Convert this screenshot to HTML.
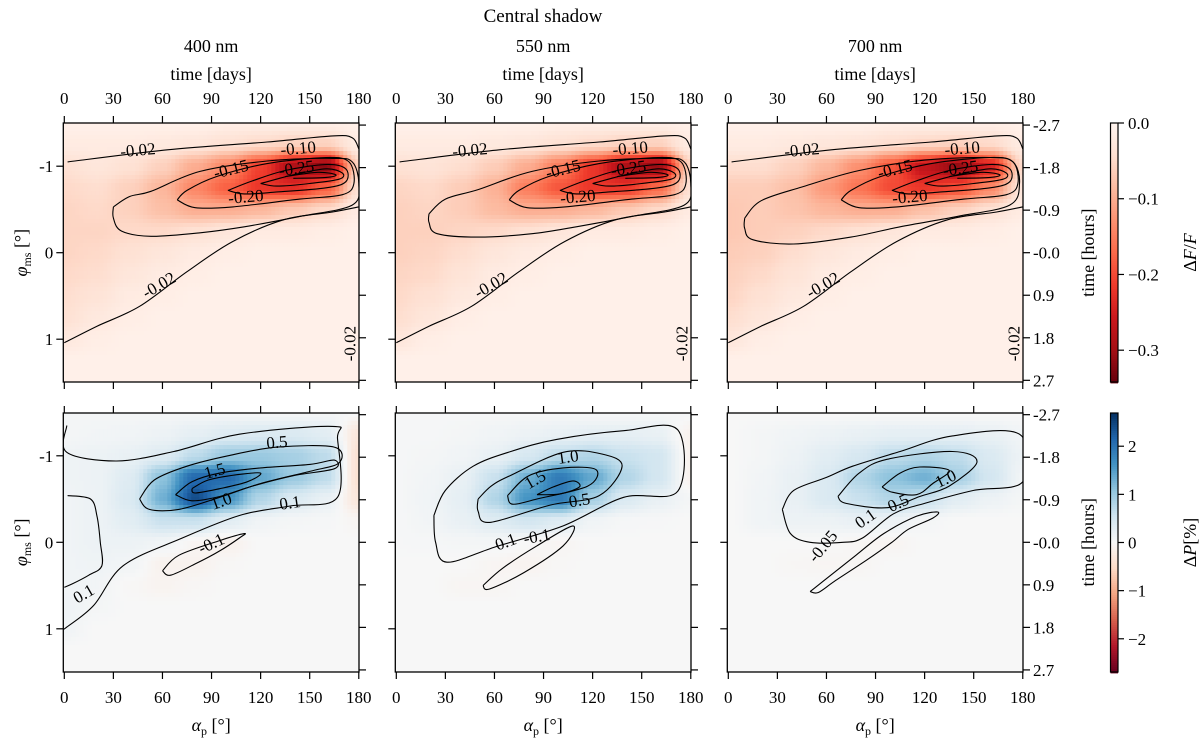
<!DOCTYPE html>
<html><head><meta charset="utf-8"><style>
html,body{margin:0;padding:0;background:#fff;}
svg{display:block;font-family:"Liberation Serif",serif;}
</style></head><body>
<svg id="fig" width="1200" height="739" viewBox="0 0 1200 739" xmlns="http://www.w3.org/2000/svg">
<text x="543" y="22" font-size="19" text-anchor="middle">Central shadow</text>
</svg>
<script>
// ---------- data ----------
const alphaGrid=[0,20,40,60,80,100,120,140,160,180];
const phiGrid=[-1.5,-1.25,-1,-0.75,-0.5,-0.25,0,0.25,0.5,0.75,1,1.25,1.5];
const xTickLabels=[0,30,60,90,120,150,180];
const yTickLabels=[-1,0,1];
const timeTickLabels=["-2.7","-1.8","-0.9","-0.0","0.9","1.8","2.7"];
const timeTicks=[-2.7,-1.8,-0.9,0,0.9,1.8,2.7];
const cbTopTicks=[0,-0.1,-0.2,-0.3];
const cbTopLabels=["0.0","\u22120.1","\u22120.2","\u22120.3"];
const cbBotTicks=[2,1,0,-1,-2];
const cbBotLabels=["2","1","0","\u22121","\u22122"];
const wavelengths=["400 nm","550 nm","700 nm"];

const T400=[
[-.01,-.01,-.01,-.01,-.01,-.015,-.015,-.015,-.015,-.01],
[-.02,-.02,-.02,-.025,-.03,-.04,-.05,-.06,-.06,-.02],
[-.04,-.03,-.04,-.06,-.10,-.14,-.21,-.29,-.32,-.06],
[-.05,-.045,-.06,-.09,-.14,-.18,-.22,-.23,-.18,-.04],
[-.055,-.05,-.06,-.08,-.10,-.10,-.09,-.07,-.05,-.02],
[-.055,-.055,-.05,-.05,-.04,-.03,-.02,-.02,-.015,-.01],
[-.055,-.05,-.04,-.03,-.02,-.015,-.01,-.01,-.01,-.01],
[-.05,-.045,-.03,-.02,-.015,-.01,-.01,-.01,-.01,-.01],
[-.045,-.035,-.02,-.015,-.01,-.01,-.01,-.01,-.01,-.01],
[-.04,-.025,-.015,-.01,-.01,-.01,-.01,-.01,-.01,-.01],
[-.025,-.015,-.01,-.01,-.01,-.01,-.01,-.01,-.01,-.01],
[-.01,-.01,-.01,-.01,-.01,-.01,-.01,-.01,-.01,-.01],
[-.01,-.01,-.01,-.01,-.01,-.01,-.01,-.01,-.01,-.01]];
const T550=[
[-.01,-.01,-.01,-.01,-.01,-.015,-.015,-.015,-.015,-.01],
[-.02,-.02,-.02,-.025,-.03,-.04,-.05,-.06,-.06,-.02],
[-.04,-.035,-.045,-.065,-.10,-.15,-.22,-.29,-.31,-.06],
[-.055,-.05,-.065,-.095,-.15,-.19,-.22,-.22,-.17,-.04],
[-.06,-.055,-.065,-.085,-.10,-.10,-.09,-.07,-.05,-.02],
[-.06,-.06,-.055,-.05,-.04,-.03,-.02,-.02,-.015,-.01],
[-.06,-.055,-.045,-.03,-.02,-.015,-.01,-.01,-.01,-.01],
[-.055,-.05,-.035,-.02,-.015,-.01,-.01,-.01,-.01,-.01],
[-.05,-.04,-.025,-.015,-.01,-.01,-.01,-.01,-.01,-.01],
[-.045,-.03,-.015,-.01,-.01,-.01,-.01,-.01,-.01,-.01],
[-.03,-.015,-.01,-.01,-.01,-.01,-.01,-.01,-.01,-.01],
[-.01,-.01,-.01,-.01,-.01,-.01,-.01,-.01,-.01,-.01],
[-.01,-.01,-.01,-.01,-.01,-.01,-.01,-.01,-.01,-.01]];
const T700=[
[-.01,-.01,-.01,-.01,-.01,-.015,-.015,-.015,-.015,-.01],
[-.02,-.02,-.025,-.03,-.035,-.045,-.055,-.06,-.05,-.02],
[-.045,-.045,-.06,-.09,-.13,-.19,-.27,-.31,-.25,-.05],
[-.065,-.065,-.08,-.12,-.16,-.20,-.22,-.20,-.14,-.03],
[-.07,-.065,-.075,-.09,-.10,-.10,-.08,-.06,-.04,-.02],
[-.07,-.065,-.06,-.05,-.04,-.03,-.02,-.02,-.015,-.01],
[-.065,-.06,-.045,-.03,-.02,-.015,-.01,-.01,-.01,-.01],
[-.06,-.05,-.035,-.02,-.015,-.01,-.01,-.01,-.01,-.01],
[-.055,-.04,-.025,-.015,-.01,-.01,-.01,-.01,-.01,-.01],
[-.045,-.03,-.015,-.01,-.01,-.01,-.01,-.01,-.01,-.01],
[-.03,-.015,-.01,-.01,-.01,-.01,-.01,-.01,-.01,-.01],
[-.01,-.01,-.01,-.01,-.01,-.01,-.01,-.01,-.01,-.01],
[-.01,-.01,-.01,-.01,-.01,-.01,-.01,-.01,-.01,-.01]];
const B400=[
[.05,.05,.05,.05,.05,.05,.05,.05,.05,0],
[.05,.08,.1,.15,.25,.35,.4,.4,.3,-.3],
[.12,.15,.2,.35,.7,1.0,1.0,.9,.7,-.4],
[.12,.15,.35,1.1,2.1,2.1,1.4,1.0,.7,-.4],
[.1,.15,.4,1.3,2.4,1.6,.8,.4,.2,-.3],
[.1,.15,.3,.6,.6,.3,.1,.05,.03,-.05],
[.1,.15,.15,.1,-.05,-.12,0,0,0,0],
[.1,.12,.08,-.1,-.1,-.02,0,0,0,0],
[.1,.08,-.02,-.08,-.03,0,0,0,0,0],
[.12,.05,0,0,0,0,0,0,0,0],
[.1,0,0,0,0,0,0,0,0,0],
[0,0,0,0,0,0,0,0,0,0],
[0,0,0,0,0,0,0,0,0,0]];
const B550=[
[.03,.03,.03,.03,.03,.03,.03,.03,.03,.03],
[.03,.03,.05,.1,.15,.2,.25,.25,.2,-.1],
[.03,.05,.1,.2,.45,.7,.8,.6,.5,-.1],
[.03,.08,.2,.6,1.3,1.9,1.4,.8,.5,-.1],
[.03,.1,.25,.8,1.6,1.9,.9,.4,.2,.05],
[.02,.08,.2,.35,.5,.35,.1,.03,.02,0],
[.02,.03,.05,.05,0,-.05,0,0,0,0],
[0,0,0,-.05,-.08,-.02,0,0,0,0],
[0,0,-.05,-.05,0,0,0,0,0,0],
[0,0,0,0,0,0,0,0,0,0],
[0,0,0,0,0,0,0,0,0,0],
[0,0,0,0,0,0,0,0,0,0],
[0,0,0,0,0,0,0,0,0,0]];
const B700=[
[0,0,0,0,0,0,0,0,0,0],
[0,.05,.1,.15,.2,.25,.25,.25,.2,.1],
[0,.05,.15,.3,.45,.7,.8,.7,.4,.15],
[0,.08,.2,.4,.8,1.1,1.3,.9,.5,.1],
[0,.1,.2,.4,.6,.8,.6,.3,.15,.05],
[0,.1,.15,.15,.2,.15,.05,0,0,0],
[0,0,0,0,-.04,-.06,0,0,0,0],
[0,0,-.03,-.05,-.04,0,0,0,0,0],
[0,0,0,0,0,0,0,0,0,0],
[0,0,0,0,0,0,0,0,0,0],
[0,0,0,0,0,0,0,0,0,0],
[0,0,0,0,0,0,0,0,0,0],
[0,0,0,0,0,0,0,0,0,0]];

// contours: [alpha, phi] pairs
const cTopUpper=[[2,-1.05],[63,-1.19],[124,-1.28],[164,-1.35],[176,-1.33],[180,-1.2]];
const cTopLower=[[0,1.04],[20,0.85],[46,0.62],[75,0.22],[103,-0.13],[134,-0.38],[164,-0.47],[180,-0.53]];
const cTop05a=[[30,-0.53],[40,-0.65],[53,-0.71],[83,-0.94],[124,-1.06],[164,-1.09],[176,-1.05],[180,-0.8],[176,-0.55],[144,-0.42],[110,-0.3],[83,-0.23],[53,-0.19],[35,-0.25],[30,-0.4],[30,-0.53]];
const cTop05b=[[20,-0.45],[30,-0.62],[50,-0.73],[83,-0.94],[124,-1.06],[164,-1.09],[176,-1.05],[180,-0.8],[176,-0.55],[144,-0.42],[110,-0.3],[83,-0.22],[50,-0.18],[25,-0.22],[20,-0.35],[20,-0.45]];
const cTop05c=[[10,-0.4],[20,-0.6],[45,-0.76],[80,-0.95],[120,-1.07],[160,-1.1],[174,-1.05],[178,-0.8],[172,-0.55],[140,-0.42],[105,-0.3],[75,-0.18],[40,-0.1],[15,-0.15],[10,-0.28],[10,-0.4]];
const cTop10=[[69,-0.61],[75,-0.72],[93,-0.88],[124,-1.03],[160,-1.1],[174,-1.05],[177,-0.8],[170,-0.67],[144,-0.62],[103,-0.53],[80,-0.52],[69,-0.61]];
const cTop15=[[100,-0.72],[115,-0.83],[135,-0.95],[160,-1.02],[172,-0.97],[172,-0.82],[160,-0.75],[129,-0.70],[110,-0.68],[100,-0.72]];
const cTop20=[[120,-0.8],[140,-0.9],[160,-0.97],[170,-0.92],[168,-0.85],[150,-0.8],[130,-0.77],[120,-0.8]];
const cTop25=[[135,-0.88],[155,-0.93],[166,-0.9],[160,-0.87],[140,-0.86]];

const cB1_01up=[[1.5,-1.35],[1.5,-1.04],[32,-0.94],[67,-1.05],[107,-1.25],[164,-1.34],[167,-1.2],[167,-0.52],[138,-0.42],[107,-0.31],[71,-0.04],[36,0.27],[18,0.73],[1.5,0.98],[0,1.0]];
const cB1_01left=[[2,-0.54],[16,-0.5],[20,-0.3],[22,0],[23,0.27],[15,0.38],[5,0.48],[0,0.52]];
const cB1_05=[[46,-0.5],[55,-0.72],[75,-0.88],[100,-1.0],[130,-1.1],[165,-1.1],[168,-0.92],[150,-0.82],[120,-0.68],[95,-0.52],[70,-0.38],[52,-0.38],[46,-0.5]];
const cB1_10=[[68,-0.55],[78,-0.7],[95,-0.8],[120,-0.86],[150,-0.9],[165,-0.95],[165,-0.85],[140,-0.77],[115,-0.65],[95,-0.53],[78,-0.48],[68,-0.55]];
const cB1_15=[[78,-0.62],[88,-0.72],[105,-0.78],[120,-0.8],[112,-0.7],[95,-0.62],[80,-0.57],[78,-0.62]];
const cB1_neg=[[60,0.33],[70,0.15],[95,-0.02],[110,-0.1],[107,-0.05],[95,0.1],[80,0.25],[65,0.38],[60,0.33]];

const cB2_01=[[23,-0.31],[30,-0.6],[47,-0.88],[70,-1.05],[98,-1.19],[139,-1.29],[172,-1.3],[172,-0.59],[139,-0.52],[102,-0.19],[61,0.05],[31,0.23],[24,0.0],[23,-0.31]];
const cB2_05=[[50,-0.5],[58,-0.65],[69.5,-0.77],[102,-1.04],[126,-1.02],[138,-0.88],[124,-0.54],[94,-0.43],[57,-0.23],[50,-0.36],[50,-0.5]];
const cB2_10=[[68,-0.54],[81,-0.77],[102,-0.86],[122,-0.84],[117,-0.65],[86,-0.5],[71,-0.44],[68,-0.54]];
const cB2_15=[[86,-0.55],[96,-0.64],[108,-0.71],[112,-0.64],[100,-0.56],[86,-0.55]];
const cB2_neg=[[53,0.5],[65,0.3],[86,0.04],[108,-0.19],[102,0.04],[78,0.35],[57,0.54],[53,0.5]];

const cB3_01=[[33,-0.38],[40,-0.6],[60,-0.75],[76,-0.88],[105,-1.05],[137,-1.23],[178,-1.25],[180,-0.7],[150,-0.6],[120,-0.45],[101,-0.33],[82,-0.05],[70,0.0],[50,0.0],[38,-0.1],[33,-0.38]];
const cB3_05=[[67,-0.53],[80,-0.8],[97,-0.96],[137,-1.05],[152,-0.93],[135,-0.65],[117,-0.53],[97,-0.4],[72,-0.45],[67,-0.53]];
const cB3_10=[[94,-0.64],[105,-0.8],[117,-0.87],[135,-0.83],[125,-0.68],[115,-0.55],[100,-0.58],[94,-0.64]];
const cB3_neg=[[50,0.57],[58,0.45],[78,0.15],[95,-0.1],[115,-0.3],[128,-0.35],[125,-0.28],[110,-0.15],[100,0.0],[85,0.2],[65,0.45],[55,0.58],[50,0.57]];

// ---------- layout ----------
const NS="http://www.w3.org/2000/svg";
const svg=document.getElementById('fig');
const LEFTS=[63.3,395.3,727.3], PW=295.7;
const TOPS=[123,413], PH=259, CENT=[252.7,542.3], SY=86.5;
function xA(p,a){return LEFTS[p]+1+a*1.636;}
function yP(r,f){return CENT[r]+f*SY;}
function mk(tag,attrs,parent){const e=document.createElementNS(NS,tag);for(const k in attrs)e.setAttribute(k,attrs[k]);(parent||svg).appendChild(e);return e;}

const REDS=[[255,245,240],[254,224,210],[252,187,161],[252,146,114],[251,106,74],[239,59,44],[203,24,29],[165,15,21],[103,0,13]];
const RDBU=[[103,0,31],[178,24,43],[214,96,77],[244,165,130],[253,219,199],[247,247,247],[209,229,240],[146,197,222],[67,147,195],[33,102,172],[5,48,97]];
function cmap(stops,t){t=Math.max(0,Math.min(1,t));const n=stops.length-1;const i=Math.min(n-1,Math.floor(t*n));const f=t*n-i;const a=stops[i],b=stops[i+1];return `rgb(${Math.round(a[0]+(b[0]-a[0])*f)},${Math.round(a[1]+(b[1]-a[1])*f)},${Math.round(a[2]+(b[2]-a[2])*f)})`;}
function colTop(v){return cmap(REDS,-v/0.342);}
function colBot(v){return cmap(RDBU,(v+2.69)/5.38);}
function sm(t){return t*t*(3-2*t);}
function sample(g,a,f){
  let i=(a-alphaGrid[0])/20, j=(f-phiGrid[0])/0.25;
  i=Math.max(0,Math.min(alphaGrid.length-1.0001,i)); j=Math.max(0,Math.min(phiGrid.length-1.0001,j));
  const i0=Math.floor(i),j0=Math.floor(j),di=sm(i-i0),dj=sm(j-j0);
  return g[j0][i0]*(1-di)*(1-dj)+g[j0][i0+1]*di*(1-dj)+g[j0+1][i0]*(1-di)*dj+g[j0+1][i0+1]*di*dj;
}
function smoothPath(pts){
  if(pts.length<3) return pts.map((q,i)=>(i?'L':'M')+q[0].toFixed(1)+','+q[1].toFixed(1)).join('');
  let d='M'+pts[0][0].toFixed(1)+','+pts[0][1].toFixed(1);
  for(let i=0;i<pts.length-1;i++){
    const p0=pts[Math.max(0,i-1)],p1=pts[i],p2=pts[i+1],p3=pts[Math.min(pts.length-1,i+2)];
    const c1=[p1[0]+(p2[0]-p0[0])/6,p1[1]+(p2[1]-p0[1])/6];
    const c2=[p2[0]-(p3[0]-p1[0])/6,p2[1]-(p3[1]-p1[1])/6];
    d+=`C${c1[0].toFixed(1)},${c1[1].toFixed(1)} ${c2[0].toFixed(1)},${c2[1].toFixed(1)} ${p2[0].toFixed(1)},${p2[1].toFixed(1)}`;
  }
  return d;
}

const defs=mk('defs',{});
function drawPanel(p,r,grid,contours,labels){
  const L=LEFTS[p],T=TOPS[r];
  const cp=mk('clipPath',{id:`clip${p}${r}`},defs);
  mk('rect',{x:L,y:T,width:PW,height:PH},cp);
  const g=mk('g',{'clip-path':`url(#clip${p}${r})`});
  
  
  const step=4;
  for(let y=T;y<T+PH;y+=step){for(let x=L;x<L+PW;x+=step){
    const a=(x+step/2-L-1)/1.636, f=(y+step/2-CENT[r])/SY;
    const v=sample(grid,a,f);
    const c=mk('rect',{x:x,y:y,width:step+0.5,height:step+0.5,fill:r?colBot(v):colTop(v)},g);
    
    
  }}
  contours.forEach(pts=>{
    const d=smoothPath(pts.map(q=>[xA(p,q[0]),yP(r,q[1])]));
    const pa=mk('path',{d:d,fill:'none',stroke:'#000','stroke-width':1.1},g);
    
    
  });
  labels.forEach(lb=>{
    const x=xA(p,lb[1]),y=yP(r,lb[2]);
    const t=mk('text',{x:x,y:y+5,'font-size':17,'text-anchor':'middle',transform:`rotate(${lb[3]} ${x} ${y})`},g);
    t.textContent=lb[0];
    
    
  });
  const fr=mk('rect',{x:L,y:T,width:PW,height:PH,fill:'none',stroke:'#000','stroke-width':1.3});
  
  
  xTickLabels.forEach(a=>{
    const x=xA(p,a);
    mk('line',{x1:x,x2:x,y1:T,y2:T-7,stroke:'#000','stroke-width':1.2});
    mk('line',{x1:x,x2:x,y1:T+PH,y2:T+PH+7,stroke:'#000','stroke-width':1.2});
    if(r===0){const t=mk('text',{x:x,y:104,'font-size':17,'text-anchor':'middle'});t.textContent=a;
      }
    if(r===1){const t=mk('text',{x:x,y:703,'font-size':17,'text-anchor':'middle'});t.textContent=a;
      }
  });
  yTickLabels.forEach(f=>{
    const y=yP(r,f);
    mk('line',{x1:L,x2:L-7,y1:y,y2:y,stroke:'#000','stroke-width':1.2});
    if(p===0){const t=mk('text',{x:L-10,y:y+6,'font-size':17,'text-anchor':'end'});t.textContent=f;
      }
  });
  timeTicks.forEach((tv,i)=>{
    const y=yP(r,tv/1.83);
    mk('line',{x1:L+PW,x2:L+PW+7,y1:y,y2:y,stroke:'#000','stroke-width':1.2});
    if(p===2){const t=mk('text',{x:L+PW+10,y:y+6,'font-size':17});t.textContent=timeTickLabels[i];
      }
  });
}

const topLabels=[["-0.02",45,-1.18,-5],["-0.10",143,-1.2,-5],["-0.15",102,-0.96,-14],["-0.25",142,-0.97,-8],["-0.20",111,-0.64,-5],["-0.02",58,0.38,-30],["-0.02",175,1.05,-90]];
drawPanel(0,0,T400,[cTopUpper,cTopLower,cTop05a,cTop10,cTop15,cTop20,cTop25],topLabels);
drawPanel(1,0,T550,[cTopUpper,cTopLower,cTop05b,cTop10,cTop15,cTop20,cTop25],topLabels);
drawPanel(2,0,T700,[cTopUpper,cTopLower,cTop05c,cTop10,cTop15,cTop20,cTop25],topLabels);
drawPanel(0,1,B400,[cB1_01up,cB1_01left,cB1_05,cB1_10,cB1_15,cB1_neg],[["0.5",130,-1.15,-5],["1.5",92,-0.82,-15],["1.0",96,-0.47,-20],["0.1",138,-0.45,-8],["-0.1",90,0.02,-25],["0.1",12,0.6,-30]]);
drawPanel(1,1,B550,[cB2_01,cB2_05,cB2_10,cB2_15,cB2_neg],[["1.0",105,-0.98,-8],["1.5",85,-0.72,-30],["0.5",112,-0.48,-10],["0.1",67,0.0,-20],["-0.1",86,-0.06,-10]]);
drawPanel(2,1,B700,[cB3_01,cB3_05,cB3_10,cB3_neg],[["1.0",133,-0.73,-25],["0.5",104,-0.45,-25],["0.1",84,-0.27,-35],["-0.05",58,0.05,-50]]);

wavelengths.forEach((w,i)=>{
  const cx=LEFTS[i]+PW/2;
  const t=mk('text',{x:cx,y:52,'font-size':18,'text-anchor':'middle'});t.textContent=w;
  
  const t2=mk('text',{x:cx,y:80,'font-size':18,'text-anchor':'middle'});t2.textContent='time [days]';
  
  const t3=mk('text',{x:cx,y:731,'font-size':18,'text-anchor':'middle'});
  t3.innerHTML='<tspan font-style="italic">α</tspan><tspan font-size="12" dy="4">p</tspan><tspan dy="-4"> [°]</tspan>';
  
});
[0,1].forEach(r=>{
  const y=CENT[r];
  const t=mk('text',{x:0,y:0,'font-size':18,'text-anchor':'middle',transform:`translate(27 ${y}) rotate(-90)`});
  t.innerHTML='<tspan font-style="italic">φ</tspan><tspan font-size="12" dy="4">ms</tspan><tspan dy="-4"> [°]</tspan>';
  
  const t2=mk('text',{x:0,y:0,'font-size':18,'text-anchor':'middle',transform:`translate(1094 ${y}) rotate(-90)`});
  t2.textContent='time [hours]';
  
});

const CBX=1110.5, CBW=7.5;
function colorbar(r,ticks,labels,fn,range0,range1,title){
  const T=TOPS[r];
  const g=mk('g',{});
  
  
  for(let i=0;i<PH;i+=2){
    const v=range0+(range1-range0)*(i+1)/PH;
    mk('rect',{x:CBX,y:T+i,width:CBW,height:2.4,fill:fn(v)},g);
  }
  mk('rect',{x:CBX,y:T,width:CBW,height:PH,fill:'none',stroke:'#000','stroke-width':1.2},g);
  ticks.forEach((tv,i)=>{
    const y=T+(tv-range0)/(range1-range0)*PH;
    mk('line',{x1:CBX+CBW,x2:CBX+CBW+6,y1:y,y2:y,stroke:'#000','stroke-width':1.2},g);
    const t=mk('text',{x:CBX+CBW+10,y:y+6,'font-size':17},g);t.textContent=labels[i];
    
  });
  const y=T+PH/2;
  const tt=mk('text',{x:0,y:0,'font-size':18,'text-anchor':'middle',transform:`translate(1196 ${y}) rotate(-90)`},g);
  tt.innerHTML=title;
  
}
colorbar(0,cbTopTicks,cbTopLabels,colTop,0,-0.342,'Δ<tspan font-style="italic">F</tspan>/<tspan font-style="italic">F</tspan>');
colorbar(1,cbBotTicks,cbBotLabels,colBot,2.69,-2.69,'Δ<tspan font-style="italic">P</tspan>[%]');
</script>
</body></html>
